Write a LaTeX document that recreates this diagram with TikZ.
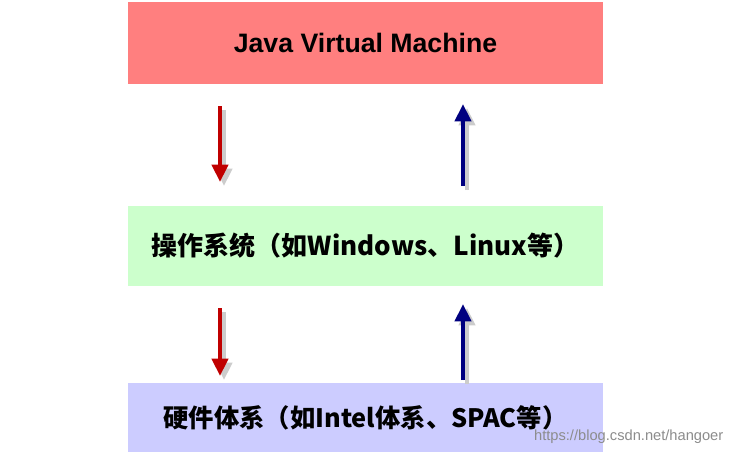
\documentclass[tikz,border=0pt]{standalone}
\usepackage{fontspec}
\setmainfont{Liberation Sans}
\newfontfamily\cjk{Noto Sans CJK SC}
\usetikzlibrary{arrows.meta}
\definecolor{jvm}{HTML}{FF7F7F}
\definecolor{os}{HTML}{CCFFCC}
\definecolor{hw}{HTML}{CCCCFF}
\definecolor{ared}{HTML}{C00000}
\definecolor{ablue}{HTML}{000080}
\begin{document}
\begin{tikzpicture}[x=0.75pt,y=-0.75pt,
  layer/.style={draw=none,minimum width=356.25pt,inner sep=0pt,font=\bfseries\fontsize{18}{20}\selectfont},
  arr/.style={line width=2.8pt,-{Triangle[length=13pt,width=12pt]}},
  shadowarr/.style={arr,draw=black!20,fill=black!20}]
\useasboundingbox (0,0) rectangle (736,457);
\fill[white] (0,0) rectangle (736,457);
\node[layer,fill=jvm,minimum height=61.5pt] (jvm) at (365.5,43) {\fontsize{20}{22}\selectfont Java Virtual Machine};
\node[layer,fill=os,minimum height=60pt] (os) at (365.5,246) {\cjk\fontsize{19.5}{22}\selectfont 操作系统（如Windows、Linux等）};
\node[layer,fill=hw,minimum height=51.75pt] (hw) at (365.5,417.5) {\cjk\fontsize{19}{22}\selectfont 硬件体系（如Intel体系、SPAC等）};
\coordinate (r1s) at (220,106); \coordinate (r1e) at (220,182);
\coordinate (b1s) at (463,186); \coordinate (b1e) at (463,104);
\coordinate (r2s) at (220,308); \coordinate (r2e) at (220,376);
\coordinate (b2s) at (463,380); \coordinate (b2e) at (463,304);
\foreach \a/\b in {r1s/r1e,b1s/b1e,r2s/r2e,b2s/b2e}{
  \draw[shadowarr] ([shift={(4,4)}]\a) -- ([shift={(4,4)}]\b);}
\draw[arr,draw=ared,fill=ared] (r1s) -- (r1e);
\draw[arr,draw=ablue,fill=ablue] (b1s) -- (b1e);
\draw[arr,draw=ared,fill=ared] (r2s) -- (r2e);
\draw[arr,draw=ablue,fill=ablue] (b2s) -- (b2e);
\node[text=black!45,font=\fontsize{11}{13}\selectfont,anchor=east] (wm) at (728,437) {https://blog.csdn.net/hangoer};
\end{tikzpicture}
\end{document}
